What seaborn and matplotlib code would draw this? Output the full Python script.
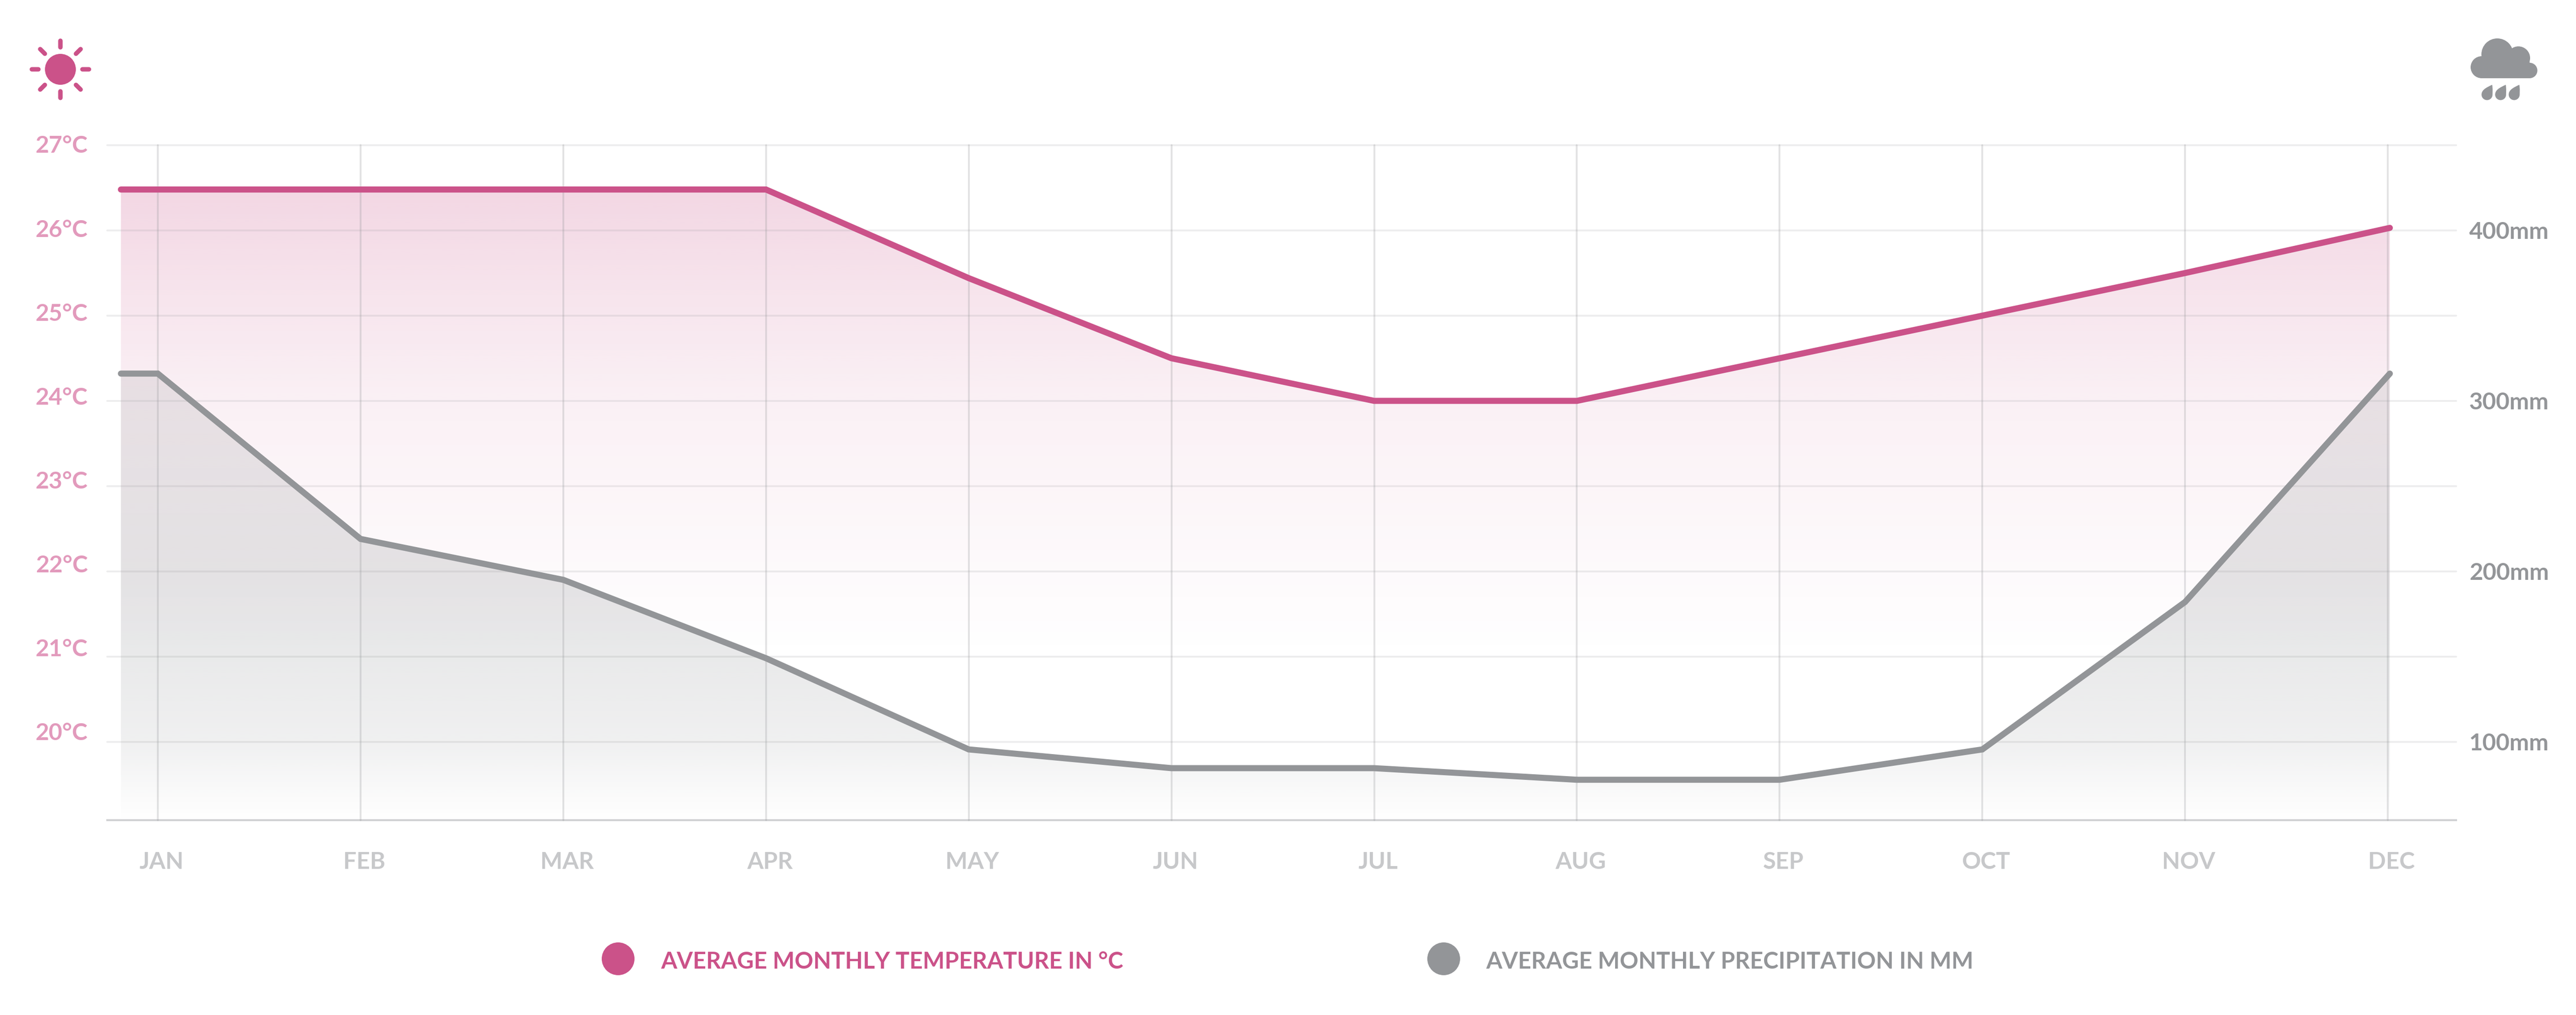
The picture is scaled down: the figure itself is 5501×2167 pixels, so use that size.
"""
Monthly temperature and precipitation climate chart
"""

import numpy as np
import pandas as pd
import matplotlib
matplotlib.use("Agg")
import matplotlib.pyplot as plt
import matplotlib.transforms as mtransforms
from matplotlib.patches import Circle, PathPatch, Rectangle
from matplotlib.path import Path
import seaborn as sns

months = ["JAN", "FEB", "MAR", "APR", "MAY", "JUN", "JUL", "AUG", "SEP", "OCT", "NOV", "DEC"]
# the lines start a bit left of JAN and stop just after DEC
line_x = [-0.182, 0, 1, 2, 3, 4, 5, 6, 7, 8, 9, 10, 11.01]
temperature = [26.48, 26.48, 26.48, 26.48, 26.48, 25.44, 24.5, 24.0, 24.0, 24.5, 25.0, 25.5, 26.03]
precipitation = [316, 316, 219, 195, 149, 95.5, 84.5, 84.5, 77.7, 77.7, 95.5, 182, 316]
temp_ticks = [20, 21, 22, 23, 24, 25, 26, 27]
rain_ticks = [100, 200, 300, 400]
rain_minor_ticks = [150, 250, 350, 450]
legend_labels = ["AVERAGE MONTHLY TEMPERATURE IN °C", "AVERAGE MONTHLY PRECIPITATION IN MM"]

PINK = "#cb5289"
PINK_LIGHT = "#e29abc"
GREY = "#939598"
GREY_LIGHT = "#c7c8ca"

W, H = 5501, 2167
PX = 72 / 100  # points per pixel at dpi 100

sns.set_theme(style="white")
plt.rcParams["font.family"] = ["Lato", "DejaVu Sans"]
plt.rcParams["font.weight"] = "bold"

df = pd.DataFrame({"x": line_x, "temp": temperature, "rain": precipitation})

fig = plt.figure(figsize=(W / 100, H / 100), dpi=100, facecolor="white")
rect = [229 / W, 1 - 1751 / H, (5245 - 229) / W, (1751 - 310) / H]
XLIM = (-0.2495, 11.337)
TEMP_LIM = (19.08, 27)
RAIN_LIM = (54, 450)  # mm = 100 + 50 * (degC - 20)


def gradient_fill(ax, x, y, floor, color, ys, alphas, ylim):
    """fill under a line with a vertical alpha gradient"""
    poly = ax.fill_between(x, y, floor, facecolor="none", edgecolor="none")
    rows = np.linspace(ylim[1], ylim[0], 400)
    img = np.zeros((400, 2, 4))
    img[..., :3] = matplotlib.colors.to_rgb(color)
    img[..., 3] = np.interp(rows, ys, alphas)[:, None]
    im = ax.imshow(img, extent=[XLIM[0], XLIM[1], ylim[0], ylim[1]], origin="upper",
                   aspect="auto", interpolation="bilinear", zorder=1)
    im.set_clip_path(poly.get_paths()[0], transform=ax.transData)


# bottom layer: pink fill
ax = fig.add_axes(rect)
gradient_fill(ax, line_x, temperature, TEMP_LIM[0], PINK,
              [21.0, 24.0, 25.2, 26.5], [0.0, 0.085, 0.15, 0.235], TEMP_LIM)
ax.set_xlim(*XLIM)
ax.set_ylim(*TEMP_LIM)
ax.set_yticks(temp_ticks)
ax.set_yticklabels([f"{t}°C" for t in temp_ticks], color=PINK_LIGHT, fontsize=36)
ax.set_xticks(range(12))
ax.set_xticklabels(months, color=GREY_LIGHT, fontsize=36)
ax.tick_params(axis="x", length=0, pad=48)
ax.tick_params(axis="y", length=0, pad=30)
shift = mtransforms.Affine2D().translate(8, 0)
for lab in ax.get_xticklabels():
    lab.set_transform(lab.get_transform() + shift)
# temperature labels sit on a slightly tighter spacing than the grid
for t, lab in zip(temp_ticks, ax.get_yticklabels()):
    lab.set_transform(lab.get_transform() + mtransforms.Affine2D().translate(0, 2 + (27 - t) * 2.9))
sns.despine(ax=ax, left=True, right=True, top=True, bottom=True)

# middle layer: grey fill, grid, grey line
ax2 = ax.twinx()
ax2.patch.set_visible(False)
gradient_fill(ax2, line_x, precipitation, RAIN_LIM[0], GREY,
              [54, 100, 150, 200, 250, 320], [0.0, 0.14, 0.2, 0.24, 0.21, 0.17], RAIN_LIM)
ax2.set_xlim(*XLIM)
ax2.set_ylim(*RAIN_LIM)
ax2.xaxis.set_visible(True)
ax2.set_xticks(range(12))
ax2.tick_params(axis="x", length=0, labelbottom=False, labeltop=False)
ax2.set_yticks(rain_ticks)
ax2.set_yticks(rain_minor_ticks, minor=True)
ax2.set_yticklabels([f"{r}mm" for r in rain_ticks], color=GREY, fontsize=36)
ax2.tick_params(axis="y", which="both", length=0, pad=20)
ax2.grid(True, axis="y", which="both", color=GREY, alpha=0.16, lw=4 * PX)
ax2.grid(True, axis="x", color=GREY, alpha=0.26, lw=4 * PX)
ax2.set_axisbelow(False)
for gl in ax2.get_ygridlines() + ax2.get_xgridlines() + [t.gridline for t in ax2.yaxis.get_minor_ticks()]:
    gl.set_clip_on(False)
sns.despine(ax=ax2, left=True, right=True, top=True)
ax2.spines["bottom"].set_color("#cfd0d2")
ax2.spines["bottom"].set_linewidth(4 * PX)
sns.lineplot(data=df, x="x", y="rain", ax=ax2, color=GREY, lw=13 * PX, sort=False, errorbar=None,
             solid_capstyle="round", solid_joinstyle="miter", zorder=5)
ax2.set_xlabel("")
ax2.set_ylabel("")

# top layer: pink line
ax3 = ax.twinx()
ax3.patch.set_visible(False)
sns.lineplot(data=df, x="x", y="temp", ax=ax3, color=PINK, lw=13 * PX, sort=False, errorbar=None,
             solid_capstyle="round", solid_joinstyle="miter", zorder=5)
ax3.set_xlim(*XLIM)
ax3.set_ylim(*TEMP_LIM)
ax3.set_yticks([])
ax3.set_xlabel("")
ax3.set_ylabel("")
sns.despine(ax=ax3, left=True, right=True, top=True, bottom=True)

# overlay in image pixels for icons and legend
ov = fig.add_axes([0, 0, 1, 1], zorder=10)
ov.set_xlim(0, W)
ov.set_ylim(H, 0)
ov.axis("off")

# sun
ov.add_patch(Circle((129, 148), 33, color=PINK, lw=0))
for ang in np.deg2rad(np.arange(0, 360, 45)):
    ov.plot([129 + 47 * np.cos(ang), 129 + 61 * np.cos(ang)],
            [148 + 47 * np.sin(ang), 148 + 61 * np.sin(ang)],
            color=PINK, lw=9.5 * PX, solid_capstyle="round")

# cloud
for cx, cy, r in [(5333, 116, 34), (5378, 124, 25), (5299.5, 143.5, 23.5), (5402, 150.5, 16.5)]:
    ov.add_patch(Circle((cx, cy), r, color=GREY, lw=0))
ov.add_patch(Rectangle((5299, 125), 103, 42, color=GREY, lw=0))

# drops
for dx in [0, 29, 58]:
    cx, cy, r = 5311 + dx, 202, 11.7
    verts = [(cx + 11, 181), (cx + 12.5, 190), (cx + r, 198), (cx + r, cy),
             (cx + r, cy + 7), (cx + 6, cy + r), (cx, cy + r),
             (cx - 6, cy + r), (cx - r, cy + 7), (cx - r, cy),
             (cx - r, 192), (cx - 2, 187), (cx + 11, 181)]
    codes = [Path.MOVETO] + [Path.CURVE4] * 12
    ov.add_patch(PathPatch(Path(verts, codes), color=GREY, lw=0))

# legend
ov.add_patch(Circle((1320, 2047), 35, color=PINK, lw=0))
ov.add_patch(Circle((3083, 2047), 35, color=GREY, lw=0))
ov.text(1411, 2054, legend_labels[0], color=PINK, fontsize=35.6, va="center", ha="left")
ov.text(3173, 2054, legend_labels[1], color=GREY, fontsize=35.6, va="center", ha="left")

fig.savefig("out.png", dpi=100)
plt.close(fig)
